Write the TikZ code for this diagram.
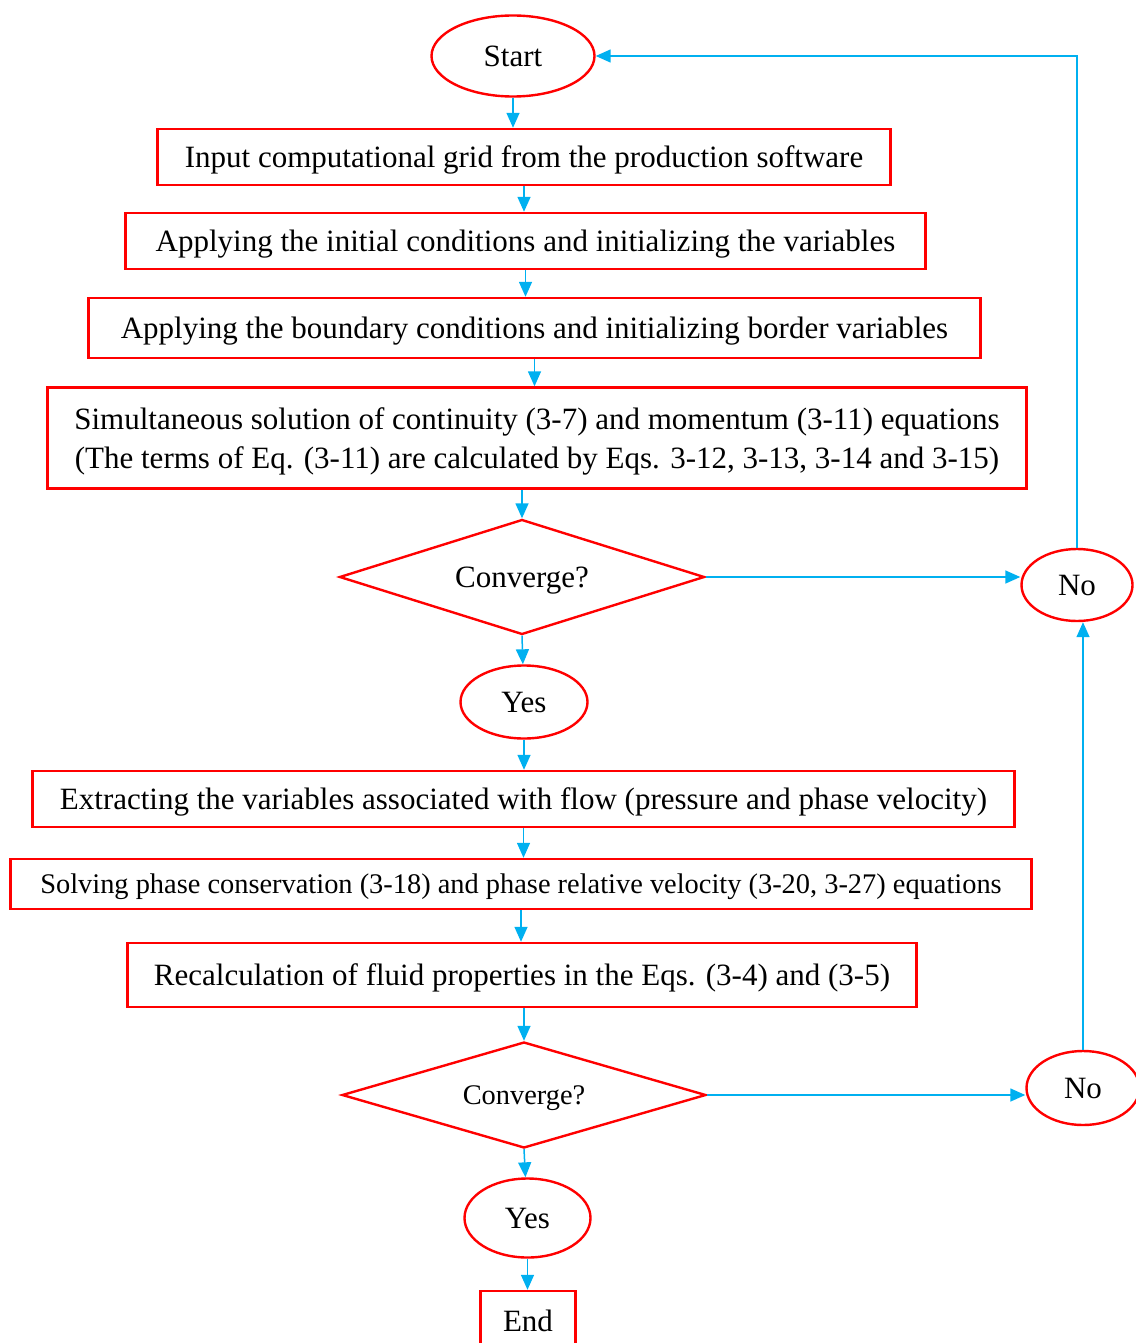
\documentclass[tikz,border=0pt]{standalone}
\usepackage{fontspec}
\setmainfont{Liberation Serif}
\usepackage{tikz}
\usetikzlibrary{arrows.meta,shapes.geometric}
\definecolor{rouge}{RGB}{255,0,0}
\definecolor{bleuciel}{RGB}{0,176,240}
\newcommand{\grand}{\fontsize{31}{39}\selectfont}
\newcommand{\petit}{\fontsize{28.4}{34}\selectfont}

\begin{document}
\begin{tikzpicture}[x=1pt,y=-1pt,font=\grand,
	boite/.style={draw=rouge,line width=2.4pt,rectangle,inner sep=0pt,text depth=0pt,align=center},
	ovale/.style={draw=rouge,line width=2.4pt,ellipse,inner sep=0pt,text depth=0pt},
	losange/.style={draw=rouge,line width=2.4pt,diamond,aspect=3.2,inner sep=0pt,text depth=0pt},
	fleche/.style={-{Triangle[length=15pt,width=13pt]},bleuciel,line width=1.5pt}]
	\useasboundingbox (0,0) rectangle (1135,1343);
	
	%% Boucle principale
	\node[ovale,minimum width=163pt,minimum height=81pt] (start) at (513,56) {Start};
	\node[boite,minimum width=733pt,minimum height=56pt] (b1) at (524,157)
	{Input computational grid from the production software};
	\node[boite,minimum width=800pt,minimum height=56pt] (b2) at (525.5,241)
	{Applying the initial conditions and initializing the variables};
	\node[boite,minimum width=892pt,minimum height=60pt] (b3) at (534.5,328)
	{Applying the boundary conditions and initializing border variables};
	\node[boite,minimum width=979pt,minimum height=101pt] (b4) at (537,438)
	{Simultaneous solution of continuity (3-7) and momentum (3-11) equations\\
		(The terms of Eq. (3-11) are calculated by Eqs. 3-12, 3-13, 3-14 and 3-15)};
	\node[losange,minimum width=365pt,minimum height=115pt] (los1) at (522,577) {Converge?};
	\node[ovale,minimum width=127pt,minimum height=73pt] (oui1) at (524,702) {Yes};
	\node[ovale,minimum width=111pt,minimum height=72pt] (non1) at (1077,585) {No};
	
	%% Deuxieme partie
	\node[boite,minimum width=982pt,minimum height=56pt] (b5) at (523.5,799)
	{Extracting the variables associated with flow (pressure and phase velocity)};
	\node[boite,minimum width=1021pt,minimum height=50pt,font=\petit] (b6) at (521,884)
	{Solving phase conservation (3-18) and phase relative velocity (3-20, 3-27) equations};
	\node[boite,minimum width=789pt,minimum height=64pt] (b7) at (522,975)
	{Recalculation of fluid properties in the Eqs. (3-4) and (3-5)};
	\node[losange,minimum width=364pt,minimum height=106pt,font=\petit] (los2) at (524,1095) {Converge?};
	\node[ovale,minimum width=126pt,minimum height=79pt] (oui2) at (527.5,1218) {Yes};
	\node[ovale,minimum width=113pt,minimum height=74pt] (non2) at (1083,1088) {No};
	\node[boite,minimum width=95pt,minimum height=60pt] (fin) at (528,1321) {End};
	
	%% fleches verticales
	\draw[fleche] (start.south) -- (start.south |- b1.north);
	\draw[fleche] (b1.south) -- (b1.south |- b2.north);
	\draw[fleche] (b2.south) -- (b2.south |- b3.north);
	\draw[fleche] (b3.south) -- (b3.south |- b4.north);
	\draw[fleche] (los1 |- b4.south) -- (los1.north);
	\draw[fleche] (los1.south) -- (oui1);
	\draw[fleche] (oui1.south) -- (oui1.south |- b5.north);
	\draw[fleche] (b5.south) -- (b5.south |- b6.north);
	\draw[fleche] (b6.south) -- (b6.south |- b7.north);
	\draw[fleche] (los2 |- b7.south) -- (los2.north);
	\draw[fleche] (los2.south) -- (oui2);
	\draw[fleche] (oui2.south) -- (oui2.south |- fin.north);
	
	%% retours
	\draw[fleche] (los1.east) -- (los1.east -| non1.west);
	\draw[fleche] (los2.east) -- (los2.east -| non2.west);
	\draw[fleche] (non2.north) -- (non2.north |- non1.south);
	\draw[fleche] (non1.north) |- (start.east);
\end{tikzpicture}
\end{document}
